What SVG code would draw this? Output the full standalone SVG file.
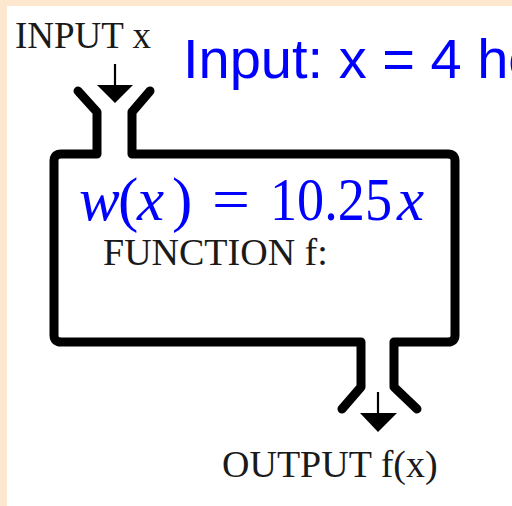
<svg xmlns="http://www.w3.org/2000/svg" width="512" height="506" viewBox="0 0 512 506">
<style>
.wall{fill:none;stroke:#000;stroke-width:9;stroke-linejoin:round;stroke-linecap:round}
.arr{stroke:#000;stroke-width:2.2}
.lbl{font-family:"Liberation Serif","Times New Roman",serif;fill:#1a1a1a}
.math{font-family:"Liberation Serif","Times New Roman",serif;fill:#0000ff;font-size:61px}
.it{font-style:italic}
</style>
<rect width="512" height="506" fill="#ffffff"/>
<rect x="0" y="0" width="512" height="6" fill="#fde8cf"/>
<rect x="0" y="0" width="7" height="506" fill="#fde8cf"/>
<g id="machine">
<path class="wall" d="M78,91 L97,112 L97,154 L61,154 Q54,154 54,161 L54,335 Q54,342 61,342 L361,342 L361,387 L342,409"/>
<path class="wall" d="M150,91 L132,112 L132,154 L448,154 Q455,154 455,161 L455,335 Q455,342 448,342 L394,342 L394,387 L417,409"/>
</g>
<g id="connectors">
<line class="arr" x1="115" y1="64" x2="115" y2="87"/>
<polygon points="97,85 133,85 115,103" fill="#000"/>
<line class="arr" x1="378" y1="392" x2="378" y2="415"/>
<polygon points="360,413 397,413 378,432" fill="#000"/>
</g>
<g id="input-label"><text class="lbl" x="15" y="48" font-size="37">INPUT x</text></g>
<g id="input-value"><text x="183" y="78" font-family="'Liberation Sans',Arial,sans-serif" font-size="56" fill="#0000ff">Input: x = 4 ho</text></g>
<g id="formula"><text class="math" y="220"><tspan class="it" x="79">w</tspan><tspan x="118">(</tspan><tspan class="it" x="137">x</tspan><tspan x="172">)</tspan><tspan x="212" textLength="38" lengthAdjust="spacingAndGlyphs">=</tspan><tspan x="270" textLength="122" lengthAdjust="spacingAndGlyphs">10.25</tspan><tspan class="it" x="397">x</tspan></text></g>
<g id="function-label"><text class="lbl" x="103" y="265" font-size="38">FUNCTION f:</text></g>
<g id="output-label"><text class="lbl" x="222" y="477" font-size="38">OUTPUT f(x)</text></g>
</svg>
